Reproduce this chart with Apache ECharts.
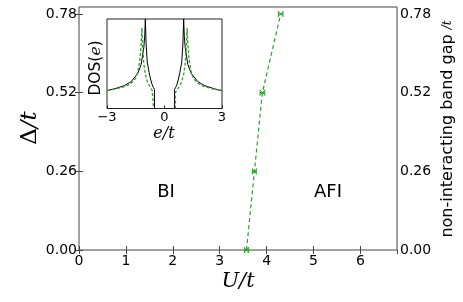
<!DOCTYPE html>
<html><head><meta charset="utf-8">
<script src="https://cdn.jsdelivr.net/npm/echarts@6/dist/echarts.min.js"></script>
<style>html,body{margin:0;padding:0;background:#fff}#c{width:463px;height:302px}</style>
</head><body><div id="c"></div>
<script>
// Main phase boundary data
var uValues = [3.57, 3.74, 3.91, 4.30];
var gapValues = [0.00, 0.26, 0.52, 0.78];
var uErr = [0.04, 0.04, 0.05, 0.05];
var yTicks = [0.00, 0.26, 0.52, 0.78];
var xTicks = [0, 1, 2, 3, 4, 5, 6];

// Inset DOS (left half; right half mirrored)
var dosBlackE = [-3, -2.6, -2.1, -1.74, -1.4, -1.22, -1.08, -1.03, -1.0, -0.96, -0.9, -0.8, -0.73, -0.65, -0.58, -0.52, -0.52];
var dosBlackV = [0.20, 0.22, 0.255, 0.30, 0.39, 0.49, 0.68, 0.82, 1.0, 0.72, 0.52, 0.40, 0.33, 0.27, 0.235, 0.21, 0];
var dosGreenE = [-3, -2.5, -2.0, -1.7, -1.5, -1.38, -1.28, -1.22, -1.18, -1.14, -1.08, -1.0, -0.88, -0.75, -0.64, -0.57, -0.57];
var dosGreenV = [0.20, 0.22, 0.25, 0.29, 0.34, 0.42, 0.55, 0.72, 0.90, 0.70, 0.50, 0.38, 0.29, 0.24, 0.20, 0.18, 0];

function mirror(E, V) {
  var left = E.map(function (e, i) { return [e, V[i]]; });
  var right = E.map(function (e, i) { return [-e, V[i]]; }).reverse();
  return left.concat([[0, null]]).concat(right);
}

var green = '#2f9e2f';
var chart = echarts.init(document.getElementById('c'));
var tickFont = { fontFamily: 'DejaVu Sans', fontSize: 14, color: '#000' };

chart.setOption({
  animation: false,
  grid: [
    { left: 79, top: 7, width: 318, height: 243, show: true, borderColor: '#444', borderWidth: 1, backgroundColor: 'transparent' },
    { left: 107, top: 19, width: 115, height: 89.5, show: true, borderColor: '#222', borderWidth: 1, backgroundColor: '#fff', z: 5 }
  ],
  xAxis: [
    { gridIndex: 0, type: 'value', min: 0, max: 6.78, interval: 1,
      axisLine: { show: false }, splitLine: { show: false },
      axisTick: { inside: true, length: 4, lineStyle: { color: '#444' } },
      axisLabel: Object.assign({ margin: 4, showMaxLabel: false, formatter: function (v) { return xTicks.indexOf(v) >= 0 ? String(v) : ''; } }, tickFont) },
    { gridIndex: 0, type: 'value', position: 'top', min: 0, max: 6.78, interval: 1,
      axisLine: { show: false }, splitLine: { show: false },
      axisTick: { inside: true, length: 4, lineStyle: { color: '#444' } }, axisLabel: { show: false } },
    { gridIndex: 1, type: 'value', min: -3, max: 3, interval: 3, z: 6,
      axisLine: { show: false }, splitLine: { show: false },
      axisTick: { inside: true, length: 3, lineStyle: { color: '#222' } },
      axisLabel: { margin: 3, fontFamily: 'DejaVu Sans', fontSize: 13, color: '#000',
        formatter: function (v) { return v < 0 ? '\u2212' + Math.abs(v) : String(v); } } }
  ],
  yAxis: [
    { gridIndex: 0, type: 'value', min: 0, max: 0.803, interval: 0.26,
      axisLine: { show: false }, splitLine: { show: false },
      axisTick: { inside: true, length: 4, lineStyle: { color: '#444' } },
      axisLabel: Object.assign({ margin: 2, showMaxLabel: false, formatter: function (v) { return v.toFixed(2); } }, tickFont) },
    { gridIndex: 0, type: 'value', position: 'right', min: 0, max: 0.803, interval: 0.26,
      axisLine: { show: false }, splitLine: { show: false },
      axisTick: { inside: true, length: 4, lineStyle: { color: '#444' } },
      axisLabel: Object.assign({ margin: 3, showMaxLabel: false, formatter: function (v) { return v.toFixed(2); } }, tickFont) },
    { gridIndex: 1, type: 'value', min: 0, max: 1, z: 6,
      axisLine: { show: false }, splitLine: { show: false }, axisTick: { show: false }, axisLabel: { show: false } }
  ],
  series: [
    { type: 'line', xAxisIndex: 0, yAxisIndex: 0, showSymbol: false, symbol: 'none',
      data: uValues.map(function (u, i) { return [u, gapValues[i]]; }),
      lineStyle: { color: green, width: 1.2, type: [4, 3] } },
    { type: 'custom', xAxisIndex: 0, yAxisIndex: 0, clip: false,
      data: uValues.map(function (u, i) { return [u, gapValues[i], uErr[i]]; }),
      renderItem: function (params, api) {
        var x = api.value(0), y = api.value(1), e = api.value(2);
        var c = api.coord([x, y]), a = api.coord([x - e, y]), b = api.coord([x + e, y]);
        var st = { stroke: green, lineWidth: 1 };
        var m = 2.2;
        return { type: 'group', children: [
          { type: 'line', shape: { x1: a[0], y1: a[1], x2: b[0], y2: b[1] }, style: st },
          { type: 'line', shape: { x1: a[0], y1: a[1] - 3, x2: a[0], y2: a[1] + 3 }, style: st },
          { type: 'line', shape: { x1: b[0], y1: b[1] - 3, x2: b[0], y2: b[1] + 3 }, style: st },
          { type: 'line', shape: { x1: c[0] - m, y1: c[1] - m, x2: c[0] + m, y2: c[1] + m }, style: st },
          { type: 'line', shape: { x1: c[0] - m, y1: c[1] + m, x2: c[0] + m, y2: c[1] - m }, style: st }
        ] };
      } },
    { type: 'line', xAxisIndex: 2, yAxisIndex: 2, showSymbol: false, symbol: 'none', z: 7,
      data: mirror(dosBlackE, dosBlackV), connectNulls: false,
      lineStyle: { color: '#000', width: 1 } },
    { type: 'line', xAxisIndex: 2, yAxisIndex: 2, showSymbol: false, symbol: 'none', z: 8,
      data: mirror(dosGreenE, dosGreenV), connectNulls: false,
      lineStyle: { color: green, width: 1.3, type: [3, 2] } }
  ],
  graphic: [
    { type: 'text', x: 30, y: 128, rotation: Math.PI / 2, z: 10,
      style: { text: '{a|\u0394}{b|/t}', align: 'center', verticalAlign: 'middle',
        rich: { a: { fontFamily: 'DejaVu Serif', fontSize: 23 }, b: { fontFamily: 'DejaVu Serif', fontStyle: 'italic', fontSize: 23 } } } },
    { type: 'text', x: 238, y: 282, z: 10,
      style: { text: 'U/t', align: 'center', verticalAlign: 'middle', font: 'italic 21px "DejaVu Serif"', fill: '#000' } },
    { type: 'text', x: 448, y: 129, rotation: Math.PI / 2, z: 10,
      style: { text: '{a|non-interacting band gap }{b|/t}', align: 'center', verticalAlign: 'middle',
        rich: { a: { fontFamily: 'DejaVu Sans', fontSize: 16 }, b: { fontFamily: 'DejaVu Serif', fontStyle: 'italic', fontSize: 12 } } } },
    { type: 'text', x: 96, y: 68, rotation: Math.PI / 2, z: 10,
      style: { text: '{a|DOS(}{b|e}{a|)}', align: 'center', verticalAlign: 'middle',
        rich: { a: { fontFamily: 'DejaVu Sans', fontSize: 15.5 }, b: { fontFamily: 'DejaVu Serif', fontStyle: 'italic', fontSize: 15.5 } } } },
    { type: 'text', x: 164, y: 134, z: 10,
      style: { text: 'e/t', align: 'center', verticalAlign: 'middle', font: 'italic 16px "DejaVu Serif"', fill: '#000' } },
    { type: 'text', x: 166, y: 192, z: 10,
      style: { text: 'BI', align: 'center', verticalAlign: 'middle', font: '18px "DejaVu Sans"', fill: '#000' } },
    { type: 'text', x: 328, y: 192, z: 10,
      style: { text: 'AFI', align: 'center', verticalAlign: 'middle', font: '18px "DejaVu Sans"', fill: '#000' } }
  ]
});
</script>
</body></html>
